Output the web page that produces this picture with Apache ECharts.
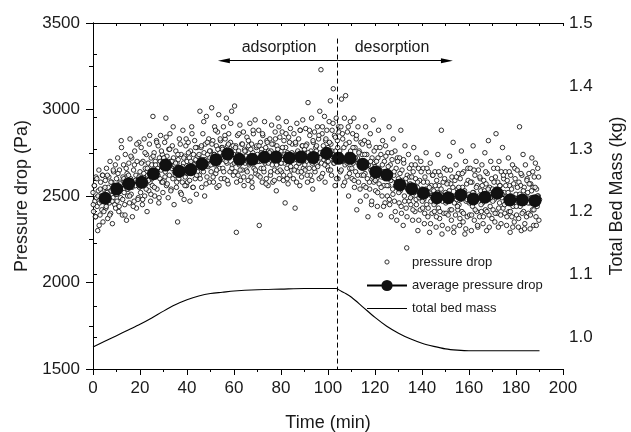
<!DOCTYPE html>
<html>
<head>
<meta charset="utf-8">
<script src="https://cdn.jsdelivr.net/npm/echarts@6/dist/echarts.min.js"></script>
<style>html,body{margin:0;padding:0;background:#fff;}#c{width:631px;height:432px;}</style>
</head>
<body>
<div id="c"></div>
<script>
// x-axis ticks
var xTicks = [0, 20, 40, 60, 80, 100, 120, 140, 160, 180, 200];
var leftTicks = [1500, 2000, 2500, 3000, 3500];
var rightTicks = [1.0, 1.1, 1.2, 1.3, 1.4, 1.5];

// raw pressure drop samples, one every 0.25 min from t = 0 (one row = 5 min)
var sampleStep = 0.25;
var pressureRaw = [
2520,2410,2560,2470,2380,2610,2490,2440,2300,2530,2650,2460,2390,2580,2500,2420,2620,2350,2540,2470,
2480,2590,2430,2660,2520,2370,2550,2610,2460,2700,2400,2530,2580,2340,2490,2640,2560,2450,2680,2510,
2600,2470,2720,2530,2410,2650,2580,2490,2820,2560,2390,2610,2680,2520,2450,2740,2570,2360,2630,2500,
2540,2690,2460,2830,2600,2510,2720,2380,2580,2650,2470,2760,2560,2620,2430,2700,2590,2490,2810,2550,
2640,2520,2780,2590,2450,2700,2610,2830,2500,2660,2570,2740,2410,2620,2690,2530,2800,2580,2470,2720,
2680,2560,2960,2620,2750,2500,2700,2610,2820,2540,2660,2790,2460,2720,2600,2850,2650,2580,2740,2520,
2700,2590,2810,2640,2950,2560,2730,2680,2490,2770,2620,2860,2700,2540,2660,2790,2600,2720,2450,2680,
2620,2760,2550,2690,2350,2710,2600,2830,2660,2520,2740,2640,2580,2880,2690,2480,2730,2610,2790,2560,
2700,2580,2810,2650,2720,2470,2760,2630,2900,2690,2550,2740,2670,2820,2600,2710,2510,2780,2640,2690,
2730,2620,2990,2680,2780,2550,2710,2860,2640,2750,2500,2800,2690,2960,2610,2740,2670,2830,2580,2720,
2760,2640,3010,2700,2820,2580,2740,2900,2680,2630,2790,2550,2870,2720,2970,2660,2750,2820,2600,2780,
2780,2660,2900,2710,2600,2830,2740,2950,2690,2790,2570,2860,2720,2640,2810,2760,2990,2680,2740,2620,
2740,3020,2640,2790,2290,2700,2850,2620,2760,2680,2910,2590,2730,2800,2650,2710,2870,2560,2770,2690,
2760,2650,2840,2700,2590,2790,2680,2920,2730,2610,2800,2550,2750,2860,2660,2720,2940,2630,2780,2700,
2740,2620,2880,2330,2700,2810,2660,2770,2580,2850,2720,2640,2930,2690,2780,2600,2820,2710,2560,2760,
2700,2830,2620,2760,2910,2680,2580,2800,2730,2650,2870,2710,2530,2790,2640,2950,2720,2600,2840,2690,
2760,2640,2870,2710,2590,2820,2690,2460,2780,2930,2660,2750,2570,2840,2700,2620,2890,2730,2650,2800,
2740,2600,2860,2710,2430,2800,2670,2920,2750,2640,2830,2690,2560,2880,2720,2610,2790,2940,2660,2750,
2770,2650,2890,2700,2800,2580,3040,2730,2660,2850,2620,2760,2950,2690,2540,2810,2710,2870,2640,2780,
2760,2680,2900,2720,2830,2600,2990,2750,3230,2690,2860,2630,2790,2710,2960,2580,2820,2740,2880,2670,
2780,2650,2930,2710,3050,2800,2620,2880,2740,3120,2690,2850,2560,2760,2950,2700,2820,2600,2900,2730,
2760,2640,2900,3060,2700,2830,2560,2780,2950,2680,3080,2720,2610,2870,2740,2500,2810,2660,2930,2700,
2740,2600,2860,2690,2950,2550,2780,2640,2830,2420,2720,2900,2580,2760,2680,2470,2810,2620,2740,2660,
2700,2560,2820,2630,2900,2500,2740,2600,2380,2680,2790,2540,2860,2650,2450,2720,2610,2940,2580,2690,
2670,2530,2780,2600,2440,2720,2880,2570,2650,2390,2740,2610,2500,2820,2640,2560,2700,2460,2790,2620,
2640,2500,2750,2560,2900,2450,2680,2590,2380,2710,2540,2830,2620,2470,2760,2560,2660,2360,2720,2580,
2600,2460,2720,2530,2880,2400,2650,2560,2330,2690,2500,2790,2580,2430,2200,2620,2540,2740,2470,2610,
2570,2450,2680,2500,2360,2640,2780,2520,2410,2600,2480,2720,2550,2300,2660,2490,2590,2420,2700,2530,
2540,2430,2660,2480,2340,2610,2510,2750,2450,2580,2380,2640,2520,2290,2690,2470,2560,2400,2620,2500,
2530,2410,2640,2460,2320,2590,2500,2740,2430,2560,2370,2620,2510,2880,2280,2470,2580,2400,2660,2490,
2520,2400,2650,2470,2310,2580,2490,2730,2420,2570,2360,2610,2500,2810,2290,2460,2590,2390,2680,2480,
2540,2420,2630,2450,2330,2600,2480,2760,2410,2550,2350,2640,2510,2280,2700,2470,2570,2380,2660,2500,
2510,2390,2660,2480,2300,2580,2440,2790,2520,2360,2620,2470,2700,2410,2560,2320,2650,2490,2380,2600,
2530,2410,2680,2460,2340,2590,2500,2750,2420,2570,2300,2630,2480,2820,2390,2550,2440,2700,2510,2370,
2540,2420,2660,2480,2350,2610,2860,2510,2400,2580,2320,2700,2460,2560,2390,2640,2490,2780,2430,2600,
2520,2400,2640,2460,2330,2590,2480,2720,2410,2560,2290,2620,2500,2380,2680,2440,2570,2350,2660,2490,
2510,2390,2650,2470,2320,2580,2900,2440,2560,2300,2620,2480,2740,2410,2550,2340,2680,2500,2380,2600,
2520,2400,2630,2460,2310,2570,2490,2720,2420,2550,2330,2610,2470,2690,2380,2540,2440,2660,2500,2360,
2480
];

// second interleaved set of samples, one every 0.5 min from t = 0.125 (one row = 5 min)
var sampleStep2 = 0.5;
var sampleOffset2 = 0.125;
var pressureRaw2 = [
2450,2560,2380,2600,2500,2330,2540,2470,2620,2410,
2550,2440,2620,2490,2390,2580,2470,2650,2520,2430,
2510,2630,2440,2570,2780,2480,2600,2390,2660,2540,
2620,2500,2730,2550,2440,2680,2590,2800,2480,2610,
2560,2690,2480,2630,2750,2540,2660,2590,2850,2510,
2600,2730,2550,2680,2810,2620,2490,2700,2760,2580,
2720,2610,2840,2570,2680,2770,2530,2700,2900,2640,
2690,2580,2740,2620,2800,2510,2670,2720,2560,2830,
2630,2750,2590,2700,2860,2550,2680,2780,2620,2730,
2740,2600,2790,2660,2930,2710,2570,2810,2680,2760,
2680,2800,2610,2740,2880,2650,2770,2560,2830,2720,
2770,2640,2850,2700,2590,2800,2730,2920,2660,2790,
2690,2780,2580,2740,2860,2650,2720,2800,2610,2760,
2730,2640,2820,2690,2770,2580,2880,2710,2650,2790,
2700,2790,2610,2750,2860,2660,2730,2570,2810,2690,
2750,2640,2800,2710,2590,2830,2680,2770,2900,2650,
2690,2780,2620,2740,2860,2600,2710,2810,2670,2750,
2730,2650,2810,2580,2760,2690,2880,2640,2790,2700,
2680,2790,2620,2750,2880,2710,2590,2820,2660,2740,
2790,2670,2850,2720,2610,2900,2750,2680,2830,2700,
2700,2810,2650,2760,2920,2690,2840,2600,2780,2870,
2740,2650,2860,2710,2580,2800,2690,2900,2630,2760,
2660,2780,2590,2720,2850,2620,2750,2540,2690,2800,
2620,2740,2550,2690,2810,2580,2700,2470,2650,2760,
2590,2700,2520,2660,2780,2550,2680,2440,2610,2730,
2560,2670,2480,2630,2750,2510,2640,2410,2580,2700,
2520,2630,2440,2590,2710,2470,2600,2380,2540,2660,
2490,2610,2420,2560,2680,2450,2580,2360,2520,2640,
2470,2580,2400,2540,2660,2430,2550,2340,2500,2620,
2450,2560,2380,2520,2640,2410,2540,2330,2490,2600,
2460,2570,2390,2530,2650,2420,2550,2320,2500,2610,
2440,2550,2370,2510,2630,2400,2530,2310,2480,2590,
2460,2580,2390,2520,2650,2420,2550,2330,2500,2610,
2450,2560,2380,2530,2640,2410,2540,2320,2490,2600,
2470,2580,2400,2540,2660,2430,2560,2340,2510,2620,
2450,2560,2380,2520,2640,2410,2540,2320,2490,2600,
2440,2550,2370,2510,2630,2400,2530,2310,2480,2590,
2460,2570,2390,2530,2640,2420,2550,2330,2500,2610
];

// averaged pressure drop
var avgTime = [5.2,10.1,15.2,20.7,25.7,30.9,36.7,41.6,46.4,52.3,57.3,62.3,67.8,72.9,77.9,83.5,88.5,93.7,99.4,104.4,109.4,114.8,120.3,125,130.6,135.6,140.6,146.3,151.2,156.5,161.8,166.8,172,177.4,182.7,188.1];
var avgPressure = [2487,2541,2571,2579,2629,2679,2643,2652,2685,2710,2743,2712,2712,2724,2725,2720,2725,2722,2747,2718,2718,2683,2639,2621,2564,2542,2516,2490,2490,2506,2483,2493,2516,2477,2477,2473];

// total bed mass (kg)
var massTime = [0,5,10,15,20,25,30,35,40,45,50,55,60,70,80,90,103.5,105,107,110,115,120,125,130,135,140,145,150,155,160,170,180,190];
var massValue = [0.985,0.994,1.003,1.012,1.021,1.031,1.042,1.052,1.060,1.066,1.070,1.072,1.074,1.076,1.077,1.078,1.078,1.075,1.071,1.064,1.048,1.032,1.018,1.007,0.998,0.991,0.986,0.982,0.980,0.979,0.979,0.979,0.979];

// phase switch and annotation arrows
var switchTime = 104;
var arrowLevel = 3282;
var adsorptionStart = 55.7;
var desorptionEnd = 150.6;

var FONT = 'Liberation Sans, Arial, sans-serif';
var TXT = '#1a1a1a';

var scatterData = pressureRaw.map(function (v, i) { return [i * sampleStep, v]; })
  .concat(pressureRaw2.map(function (v, i) { return [sampleOffset2 + i * sampleStep2, v]; }));
var avgData = avgTime.map(function (t, i) { return [t, avgPressure[i]]; });
var massData = massTime.map(function (t, i) { return [t, massValue[i]]; });

var dotIcon = 'image://data:image/svg+xml;charset=utf-8,' + encodeURIComponent(
  '<svg xmlns="http://www.w3.org/2000/svg" width="40" height="14" viewBox="0 0 40 14">' +
  '<circle cx="20" cy="7" r="2.1" fill="#ffffff" stroke="#000000" stroke-width="1"/></svg>');
var lineIcon = 'path://M0,0H40V1.2H0Z';

var chart = echarts.init(document.getElementById('c'), null, {renderer: 'canvas'});
var axisLine = {show: true, lineStyle: {color: '#000', width: 1}};

chart.setOption({
  animation: false,
  backgroundColor: '#fff',
  grid: {left: 93, right: 68, top: 23, bottom: 63, containLabel: false, outerBoundsMode: 'none'},
  xAxis: [{
    type: 'value', min: 0, max: 200, interval: 20,
    name: 'Time (min)', nameLocation: 'middle', nameGap: 45,
    nameTextStyle: {fontSize: 18, color: TXT, fontFamily: FONT},
    axisLine: axisLine,
    axisTick: {show: true, inside: false, length: 6, lineStyle: {color: '#000'}},
    minorTick: {show: true, splitNumber: 2, length: 3, lineStyle: {color: '#000'}},
    axisLabel: {fontSize: 17, color: TXT, fontFamily: FONT, margin: 11,
      formatter: function (v) { return String(v); }},
    splitLine: {show: false}
  }, {
    type: 'value', position: 'top', min: 0, max: 200, interval: 10,
    axisLine: axisLine,
    axisTick: {show: true, inside: true, length: 3, lineStyle: {color: '#000'}},
    axisLabel: {show: false},
    splitLine: {show: false}
  }],
  yAxis: [{
    type: 'value', min: 1500, max: 3500, interval: 500,
    name: 'Pressure drop (Pa)', nameLocation: 'middle', nameGap: 54,
    nameTextStyle: {fontSize: 18, color: TXT, fontFamily: FONT},
    axisLine: axisLine,
    axisTick: {show: true, inside: false, length: 7, lineStyle: {color: '#000'}},
    minorTick: {show: true, splitNumber: 2, length: 4, lineStyle: {color: '#000'}},
    axisLabel: {fontSize: 17, color: TXT, fontFamily: FONT, margin: 13,
      formatter: function (v) { return String(v); }},
    splitLine: {show: false}
  }, {
    type: 'value', position: 'right', min: 0.95, max: 1.5, interval: 0.05,
    name: 'Total Bed Mass (kg)', nameLocation: 'middle', nameGap: 45,
    nameTextStyle: {fontSize: 18, color: TXT, fontFamily: FONT},
    axisLine: axisLine,
    axisTick: {show: true, inside: false, length: 4, lineStyle: {color: '#000'}},
    axisLabel: {fontSize: 17, color: TXT, fontFamily: FONT, margin: 6,
      formatter: function (v) {
        var k = Math.round(v * 100);
        return k % 10 === 0 ? (k / 100).toFixed(1) : '';
      }},
    splitLine: {show: false}
  }],
  legend: [{
    data: [
      {name: 'pressure drop', icon: dotIcon},
      {name: 'average pressure drop'},
      {name: 'total bed mass', icon: lineIcon}
    ],
    orient: 'vertical', left: 361, top: 250,
    itemWidth: 40, itemHeight: 14, itemGap: 10,
    textStyle: {fontSize: 13, color: TXT, fontFamily: FONT}
  }],
  graphic: [
    {type: 'text', x: 279, y: 48, style: {text: 'adsorption', fontSize: 16, fontFamily: FONT, fill: TXT, align: 'center', verticalAlign: 'middle', textAlign: 'center', textVerticalAlign: 'middle'}},
    {type: 'text', x: 392, y: 48, style: {text: 'desorption', fontSize: 16, fontFamily: FONT, fill: TXT, align: 'center', verticalAlign: 'middle', textAlign: 'center', textVerticalAlign: 'middle'}}
  ],
  series: [{
    name: 'pressure drop', type: 'scatter', xAxisIndex: 0, yAxisIndex: 0,
    data: scatterData, symbol: 'circle', symbolSize: 4.5,
    itemStyle: {color: '#fff', borderColor: '#000', borderWidth: 1},
    z: 2,
    markLine: {
      silent: true, animation: false, symbol: ['none', 'none'],
      label: {show: false},
      data: [
        [{coord: [switchTime, 3410], lineStyle: {type: [5, 3], color: '#000', width: 1}}, {coord: [switchTime, 1500]}],
        [{coord: [switchTime, arrowLevel], symbol: 'none', lineStyle: {type: 'solid', color: '#000', width: 1}}, {coord: [adsorptionStart, arrowLevel], symbol: 'triangle', symbolSize: [5, 12]}],
        [{coord: [switchTime, arrowLevel], symbol: 'none', lineStyle: {type: 'solid', color: '#000', width: 1}}, {coord: [desorptionEnd, arrowLevel], symbol: 'triangle', symbolSize: [5, 12]}]
      ]
    }
  }, {
    name: 'average pressure drop', type: 'line', xAxisIndex: 0, yAxisIndex: 0,
    data: avgData, symbol: 'circle', symbolSize: 13, showSymbol: true,
    lineStyle: {color: '#000', width: 1},
    itemStyle: {color: '#111', borderColor: '#111', borderWidth: 0},
    z: 4
  }, {
    name: 'total bed mass', type: 'line', xAxisIndex: 0, yAxisIndex: 1,
    data: massData, symbol: 'none', smooth: 0.3,
    lineStyle: {color: '#000', width: 1.1},
    itemStyle: {color: '#000'},
    z: 3
  }]
});
</script>
</body>
</html>
